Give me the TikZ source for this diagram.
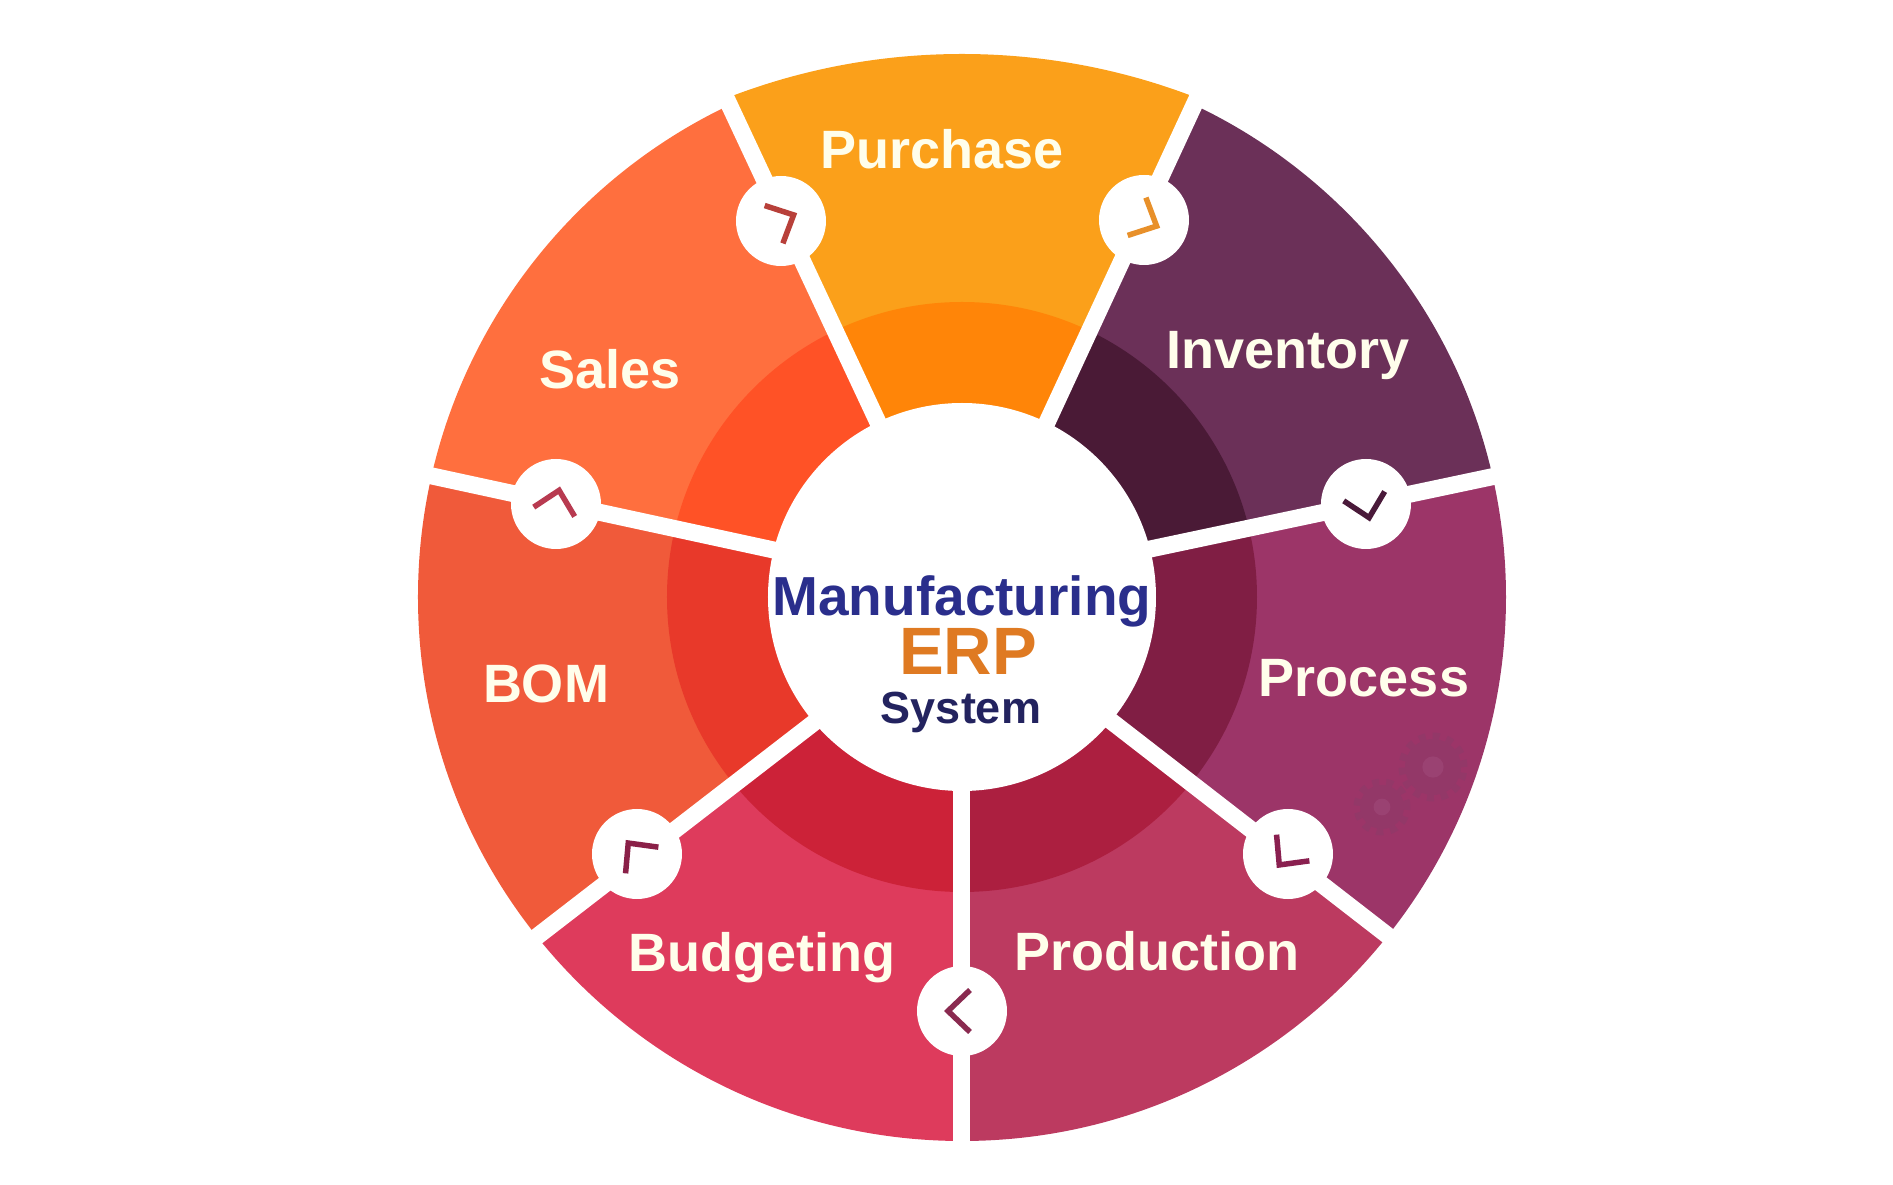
\documentclass[tikz,border=0pt]{standalone}
\usepackage{fontspec}
\usetikzlibrary{calc}
\setmainfont{Liberation Sans}
\definecolor{purO}{HTML}{FBA01A}\definecolor{purI}{HTML}{FF8508}
\definecolor{invO}{HTML}{6B3058}\definecolor{invI}{HTML}{4A1A36}
\definecolor{proO}{HTML}{9C3568}\definecolor{proI}{HTML}{801E44}
\definecolor{prdO}{HTML}{BC3A60}\definecolor{prdI}{HTML}{AC1F40}
\definecolor{budO}{HTML}{DE3B5C}\definecolor{budI}{HTML}{CC2238}
\definecolor{bomO}{HTML}{F05A3A}\definecolor{bomI}{HTML}{E8392A}
\definecolor{salO}{HTML}{FF6F3E}\definecolor{salI}{HTML}{FF5226}
\definecolor{navyA}{HTML}{2A2E8C}\definecolor{navyB}{HTML}{23235F}
\definecolor{erpC}{HTML}{DF7A22}
\definecolor{gearC}{HTML}{933868}\definecolor{gearH}{HTML}{9A4272}
\definecolor{chA}{HTML}{E8902A}\definecolor{chB}{HTML}{4A1A3A}
\definecolor{chC}{HTML}{8A2050}\definecolor{chD}{HTML}{8A2A50}
\definecolor{chE}{HTML}{8A2048}\definecolor{chF}{HTML}{B83A50}
\definecolor{chG}{HTML}{B8403A}
\tikzset{
  lab/.style={text=white!92!yellow,font=\bfseries\fontsize{54}{60}\selectfont,anchor=base,inner sep=0pt},
  bubble/.style={circle,fill=white,minimum size=90pt,inner sep=0pt},
  chev/.style={line width=5.5pt,line cap=butt,line join=miter},
  hub/.style={circle,fill=white,minimum size=388pt,inner sep=0pt},
  gap/.style={white,line width=17pt}
}
\newcommand{\sect}[6]{% spoke 1, spoke 2, outer colour, inner colour, disc centre y, disc radius
  \begin{scope}
    \clip (0,0) -- (J#1) -- (E#1) -- (E#2) -- (J#2) -- cycle;
    \fill[#3] (0,#5) circle (#6pt);
    \fill[#4] (0,0) circle (295pt);
  \end{scope}
}
\newcommand{\chevron}[3]{% bubble name, spoke angle, colour
  \draw[chev,#3,shift={(#1.center)},rotate=#2-270] (8,21) -- (-14,0) -- (8,-21);
}
\newcommand{\gearmark}[3]{% x, y, radius
  \fill[gearC] (#1,#2) circle (#3pt);
  \draw[gearC,line width=7pt,dash pattern=on 7pt off 7pt] (#1,#2) circle (#3pt+3pt);
  \fill[gearH] (#1,#2) circle (#3pt*0.38);
}
\begin{document}
\begin{tikzpicture}[x=1pt,y=1pt]
\useasboundingbox (-962,-588) rectangle (931,597);
% spoke ends: inside the hub (J), at the hub (I), at the rim (O), beyond the rim (E)
\foreach \n/\ix/\iy/\ox/\oy in {a/88/181/233/494,b/193/49/529/120,c/158/-131/425/-338,d/0/-193/0/-543,e/-155/-131/-423/-338,f/-193/48/-530/121,g/-87/181/-234/495}{
  \coordinate (I\n) at (\ix,\iy);
  \coordinate (O\n) at (\ox,\oy);
  \coordinate (E\n) at ($(I\n)!1.5!(O\n)$);
  \coordinate (J\n) at ($(I\n)!-0.1!(O\n)$);
}
% segments (Purchase has a flatter outer edge)
\sect{a}{g}{purO}{purI}{-105}{648}
\sect{b}{a}{invO}{invI}{0}{544}
\sect{c}{b}{proO}{proI}{0}{544}
\sect{d}{c}{prdO}{prdI}{0}{544}
\sect{e}{d}{budO}{budI}{0}{544}
\sect{f}{e}{bomO}{bomI}{0}{544}
\sect{g}{f}{salO}{salI}{0}{544}
% faint watermark in Process
\gearmark{420}{-210}{22}
\gearmark{471}{-170}{28}
% gaps
\foreach \n in {a,b,c,d,e,f,g}
  \draw[gap] (J\n) -- (E\n);
% hub
\node[hub] (hub) at (0,0) {};
\node[anchor=base,inner sep=0pt,text=navyA,font=\bfseries\fontsize{55}{60}\selectfont] (mfg) at (0,-19) {Manufacturing};
\node[anchor=base,inner sep=0pt,text=erpC,font=\bfseries\fontsize{67}{70}\selectfont] (erp) at (6,-78) {ERP};
\node[anchor=base,inner sep=0pt,text=navyB,font=\bfseries\fontsize{45}{50}\selectfont] (sys) at (-1,-127) {System};
% bubbles
\node[bubble] (b1) at (182,377) {};
\node[bubble] (b2) at (404,93) {};
\node[bubble] (b3) at (326,-257) {};
\node[bubble] (b4) at (0,-414) {};
\node[bubble] (b5) at (-325,-257) {};
\node[bubble] (b6) at (-406,93) {};
\node[bubble] (b7) at (-181,376) {};
\chevron{b1}{64.29}{chA}
\chevron{b2}{12.86}{chB}
\chevron{b3}{321.43}{chC}
\chevron{b4}{270}{chD}
\chevron{b5}{218.57}{chE}
\chevron{b6}{167.14}{chF}
\chevron{b7}{115.71}{chG}
% labels
\node[lab] (purchase) at (-20,428) {Purchase};
\node[lab] (inventory) at (326,228) {Inventory};
\node[lab] (process) at (402,-100) {Process};
\node[lab] (production) at (195,-373) {Production};
\node[lab] (budgeting) at (-200,-374) {Budgeting};
\node[lab] (bom) at (-416,-106) {BOM};
\node[lab] (sales) at (-352,208) {Sales};
\end{tikzpicture}
\end{document}
